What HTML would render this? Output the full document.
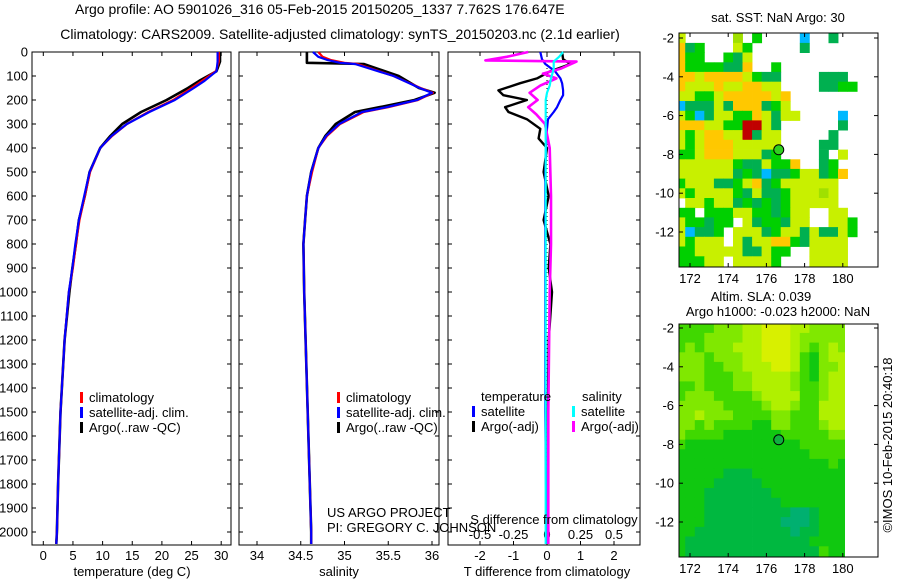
<!DOCTYPE html>
<html><head><meta charset="utf-8"><style>
html,body{margin:0;padding:0;background:#fff;}
svg{display:block;font-family:"Liberation Sans",sans-serif;font-size:13px;}
</style></head><body>
<svg id="c" width="900" height="580" viewBox="0 0 900 580">
<text x="75" y="14" style="font-size:14px">Argo profile: AO 5901026_316 05-Feb-2015 20150205_1337 7.762S 176.647E</text>
<text x="340" y="39" style="font-size:14px" text-anchor="middle">Climatology: CARS2009. Satellite-adjusted climatology: synTS_20150203.nc (2.1d earlier)</text>
</svg>
<script>
// ---- data ----
const depthT = [0,40,80,120,150,200,250,300,350,400,500,600,700,800,900,1000,1200,1500,1800,2000,2050];
const tClim = [29.6,29.6,29.1,26.8,25.0,21.9,17.7,14.1,11.6,9.6,7.9,7.0,6.1,5.5,5.0,4.3,3.6,2.9,2.5,2.3,2.2];
const tSat  = [29.4,29.4,29.2,27.2,25.4,22.2,17.9,14.1,11.5,9.6,7.8,6.9,6.0,5.4,4.9,4.3,3.6,2.9,2.5,2.3,2.2];
const tArgo = [29.8,29.8,29.2,26.3,24.4,20.8,16.5,13.3,11.3,9.6,7.8,7.0,6.0,5.5,4.9,4.4,3.6,2.9,2.5,2.3,2.2];
const depthS = [0,20,33,45,50,100,150,170,200,230,250,300,350,400,500,600,700,800,1000,1500,2000,2050];
const sClim = [34.70,34.75,34.84,35.0,35.15,35.56,35.87,36.01,35.84,35.50,35.22,34.95,34.80,34.70,34.63,34.57,34.55,34.53,34.54,34.58,34.62,34.62];
const sSat  = [34.64,34.70,34.80,34.95,35.12,35.56,35.86,36.00,35.83,35.48,35.20,34.94,34.79,34.70,34.62,34.57,34.55,34.53,34.54,34.58,34.62,34.62];
const sArgo = [34.57,34.57,34.57,34.57,35.22,35.62,35.85,36.03,35.80,35.40,35.12,34.90,34.78,34.70,34.62,34.57,34.55,34.53,34.54,34.58,34.62,34.62];
const depthDT = [0,30,50,80,110,130,160,180,200,230,250,280,320,360,400,500,600,700,800,900,1000,1200,1500,1800,2000,2050];
const dTArgo = [0.45,0.48,0.7,0.1,-0.3,-0.8,-1.45,-1.3,-0.6,-1.25,-1.15,-0.6,-0.2,-0.25,0,-0.1,0.05,-0.1,0.1,0.05,0.15,0.05,0.02,0.03,0.02,0.02];
const dTSat  = [-0.2,-0.15,-0.05,0.24,0.4,0.45,0.48,0.48,0.4,0.3,0.2,0.03,0,-0.02,-0.03,-0.05,-0.05,-0.05,-0.05,-0.05,-0.05,-0.05,-0.05,-0.03,0,0];
const depthDS = [0,20,35,40,70,90,110,140,170,200,230,260,300,400,600,800,1000,1500,2000,2050];
const dSArgo = [-0.14,-0.3,-0.46,0.22,0.1,-0.03,0.07,-0.05,-0.13,-0.07,-0.14,-0.08,-0.015,0.02,0.03,0.03,0.02,0.01,0.01,0.01];
const dSSat  = [0.12,0.09,0.06,0.05,0.05,0.04,0.03,0.02,0.0,-0.01,-0.01,-0.01,-0.01,-0.01,-0.01,-0.01,-0.01,-0.01,-0.01,-0.01];
const depthTicks = [0,100,200,300,400,500,600,700,800,900,1000,1100,1200,1300,1400,1500,1600,1700,1800,1900,2000];
const tTicks = [0,5,10,15,20,25,30];
const sTicks = [34,34.5,35,35.5,36];
const dTTicks = [-2,-1,0,1,2];
const dSTicks = [-0.5,-0.25,0,0.25,0.5];
const lonTicks = [172,174,176,178,180];
const latTicks = [-2,-4,-6,-8,-10,-12];
const sstRows = [
"y.....l.g....c..G....",
"oGg...yg.....G.......",
"ogg..gGy.............",
"oggggGGo..g..........",
"ooyooooygGG....GGG...",
"oyyyoyyooyy....GGgg..",
"yyggyoooooyo.........",
"cGGGyGoooGgy.........",
"ygcGyyggoyGyy....c...",
"oooyyggrryG......G...",
"ygyooyyrGyy.....G....",
"ygyoooyyyyy....GG....",
"ggyoooyyyGg....G.y...",
"yyyyyygGGyggo..Gg....",
"yyyyyyGgGcGGgyyGgo...",
"gyyyGGgyoGgyyyyyy....",
"ygyyyygGyGGgyyyly....",
".yygyyGgGgGgyyyyy....",
"gg.gggyyggGgyy..yy...",
"yggGgg.yGggGyy..yyg..",
"ycGGg.yyyGgyyGyGGyg..",
"ygyyy.yGyyoogGyyyy...",
"ggyyyyyGGygg..yyyy...",
"gggyy.yyyyg...yyyy...",
"gggyy.yyyyg...yyyy..."];
const slaRows = [
"bbbbcccddeeeddcccc","bbbccccddeeedccccc","bcbcccdddeeedcbcdc","cccbcccddeeedbacdd",
"cccbbccdddeedbaccd","cccbbbccddddcbacdd","bbcbbbccddddcbbcdd","bcccbbbbcddddbbcdd",
"cccccbbbbcddcbbddd","ccdcccbbbbccbbbddd","ccbcbbbbaaccbbbcdd","cbbbbaaaaaabbbbbcc",
"baaaaaaaaaaaabbbbb","aaaaaaaaaaaaaabbbb","aaaaaaaaaaaaaaaaba","aaaaafffaaaaaaaaaa",
"aaaafffffaaaaaaaaa","aaafffffffaaaaaaaa","aaaffffffffaaaaaaa","aaafffffffffhhfaaa",
"aaaffffffffhhhfaaa","aaffffffffffhffaaa","afffffffffffffaaaa","affffffffffffffbaa","affffffffffffffbaa"];
const floatLon = 176.647, floatLat = -7.762;

// ---- helpers ----
const NS="http://www.w3.org/2000/svg";
const svg=document.getElementById('c');
function el(tag,attrs,parent){const e=document.createElementNS(NS,tag);for(const k in attrs)e.setAttribute(k,attrs[k]);(parent||svg).appendChild(e);return e;}
function txt(x,y,s,anchor,parent){const t=el('text',{x:x,y:y,'text-anchor':anchor||'start'},parent);t.textContent=s;return t;}

const yTop=52, yPx=0.24;
function yD(d){return yTop+d*yPx;}
const plotBottom=545;

function panel(name,x0,x1,xs,ticks,fmt,labY){
  const g=el('g',{});
  
  
  el('rect',{x:x0,y:yTop,width:x1-x0,height:plotBottom-yTop,fill:'none',stroke:'#000','stroke-width':1},g);
  depthTicks.forEach(d=>{const y=yD(d);el('line',{x1:x0,y1:y,x2:x0+4,y2:y,stroke:'#000'},g);el('line',{x1:x1-4,y1:y,x2:x1,y2:y,stroke:'#000'},g);});
  if(ticks){ticks.forEach(v=>{const x=xs(v);el('line',{x1:x,y1:yTop,x2:x,y2:yTop+4,stroke:'#000'},g);el('line',{x1:x,y1:plotBottom-4,x2:x,y2:plotBottom,stroke:'#000'},g);
    const t=txt(x,labY,fmt(v),'middle',g);});}
  return g;
}
function line(g,name,xs,vals,depths,color,w){
  const pts=vals.map((v,i)=>xs(v).toFixed(1)+','+yD(depths[i]).toFixed(1)).join(' ');
  const p=el('polyline',{points:pts,fill:'none',stroke:color,'stroke-width':w||2.2,'stroke-linejoin':'round'},g);
  
  
  return p;
}
function legendRow(g,x,y,color,label){
  el('rect',{x:x,y:y-10,width:3,height:11,fill:color},g);
  txt(x+9,y,label,'start',g);
}

const yl=el('g',{});


depthTicks.forEach(d=>{txt(28,yD(d)+4.5,String(d),'end',yl);});

// panel 1
const xT=v=>43.3+v*5.93;
const p1=panel('temperature-panel',32,231,xT,tTicks,v=>String(v),560);
line(p1,'temperature-argo-line',xT,tArgo,depthT,'#000',2.6);
line(p1,'temperature-climatology-line',xT,tClim,depthT,'#f00',2.2);
line(p1,'temperature-satellite-line',xT,tSat,depthT,'#00f',2.2);
const xl1=txt(132,576,'temperature (deg C)','middle');


const lg1=el('g',{});


legendRow(lg1,80,402,'#f00','climatology');legendRow(lg1,80,417,'#00f','satellite-adj. clim.');legendRow(lg1,80,432,'#000','Argo(..raw -QC)');

// panel 2
const xS=v=>257+(v-34)*87.5;
const p2=panel('salinity-panel',239,439,xS,sTicks,v=>String(v),560);
line(p2,'salinity-argo-line',xS,sArgo,depthS,'#000',2.6);
line(p2,'salinity-climatology-line',xS,sClim,depthS,'#f00',2.2);
line(p2,'salinity-satellite-line',xS,sSat,depthS,'#00f',2.2);
const xl2=txt(339,576,'salinity','middle');


const lg2=el('g',{});


legendRow(lg2,337,402,'#f00','climatology');legendRow(lg2,337,417,'#00f','satellite-adj. clim.');legendRow(lg2,337,432,'#000','Argo(..raw -QC)');

// panel 3
const xDT=v=>547+v*33.5;
const xDS=v=>547+v*134;
const p3=panel('difference-panel',448,640,xDT,dTTicks,v=>String(v),560);
dSTicks.forEach(v=>{const t=txt(xDS(v),539,String(v),'middle',p3);});
el('line',{x1:547,y1:yTop,x2:547,y2:plotBottom,stroke:'#000','stroke-dasharray':'1,3'},p3);
line(p3,'t-diff-argo-line',xDT,dTArgo,depthDT,'#000',2.4);
line(p3,'t-diff-satellite-line',xDT,dTSat,depthDT,'#00f',2.2);
line(p3,'s-diff-argo-line',xDS,dSArgo,depthDS,'#f0f',2.6);
line(p3,'s-diff-satellite-line',xDS,dSSat,depthDS,'#0ff',2.2);
const sdt=txt(554,524,'S difference from climatology','middle');


const tdt=txt(547,576,'T difference from climatology','middle');


const lg3=el('g',{});


txt(481,401,'temperature','start',lg3);txt(582,401,'salinity','start',lg3);
legendRow(lg3,472,416,'#00f','satellite');legendRow(lg3,472,431,'#000','Argo(-adj)');
legendRow(lg3,572,416,'#0ff','satellite');legendRow(lg3,572,431,'#f0f','Argo(-adj)');
const pr1=txt(327,517,'US ARGO PROJECT');


const pr2=txt(327,532,'PI: GREGORY C. JOHNSON');



// maps
function map(name,yT,yB,latRef,rows,colors,clipX){
  const x0=679,x1=878;
  const lonX=l=>690+(l-172)*19.1;
  const latY=l=>latRef+(-2-l)*19.4;
  const g=el('g',{});
  
  
  const cid=name+'-clip';
  const cp=el('clipPath',{id:cid},g);
  el('rect',{x:x0,y:yT,width:Math.min(clipX,x1)-x0,height:yB-yT},cp);
  el('rect',{x:x0,y:yT,width:x1-x0,height:yB-yT,fill:'#fff'},g);
  const cells=el('g',{'clip-path':'url(#'+cid+')'},g);
  rows.forEach((r,i)=>{const lat=-2-0.5*i;for(let j=0;j<r.length;j++){const c=colors[r[j]];if(!c)continue;const lon=171.5+0.5*j;
    const xa=lonX(lon-0.25),ya=latY(lat+0.25);
    const cell=el('rect',{x:xa.toFixed(1),y:ya.toFixed(1),width:'9.95',height:'10.1',fill:c},cells);
    
    }});
  el('rect',{x:x0,y:yT,width:x1-x0,height:yB-yT,fill:'none',stroke:'#000'},g);
  const mk=el('circle',{cx:lonX(floatLon),cy:latY(floatLat),r:5,fill:colors.marker,stroke:'#000','stroke-width':1},g);
  
  
  lonTicks.forEach(l=>{const x=lonX(l);el('line',{x1:x,y1:yT,x2:x,y2:yT+4,stroke:'#000'},g);el('line',{x1:x,y1:yB-4,x2:x,y2:yB,stroke:'#000'},g);txt(x,yB+16,String(l),'middle',g);});
  latTicks.forEach(l=>{const y=latY(l);el('line',{x1:x0,y1:y,x2:x0+4,y2:y,stroke:'#000'},g);el('line',{x1:x1-4,y1:y,x2:x1,y2:y,stroke:'#000'},g);txt(674,y+4.5,String(l),'end',g);});
}
map('sst-map',33,267,38,sstRows,{y:'#c8f000',l:'#a0e000',g:'#00d000',G:'#00b050',o:'#ffc800',r:'#c00000',c:'#00b8ff',marker:'#30d020'},900);
map('sla-map',324,557,328,slaRows,{a:'#10c810',b:'#40d800',c:'#80e800',d:'#b0f000',e:'#d8f000',f:'#00b840',h:'#00b070',marker:'#10b040'},845);
const mt1=txt(778,22,'sat. SST: NaN  Argo: 30','middle');


const mt2=txt(761,301,'Altim. SLA: 0.039','middle');


const mt3=txt(778,316,'Argo h1000: -0.023 h2000: NaN','middle');


const cr=txt(0,0,'©IMOS 10-Feb-2015 20:40:18','middle');
cr.setAttribute('transform','translate(892,445) rotate(-90)');


</script>
</body></html>
